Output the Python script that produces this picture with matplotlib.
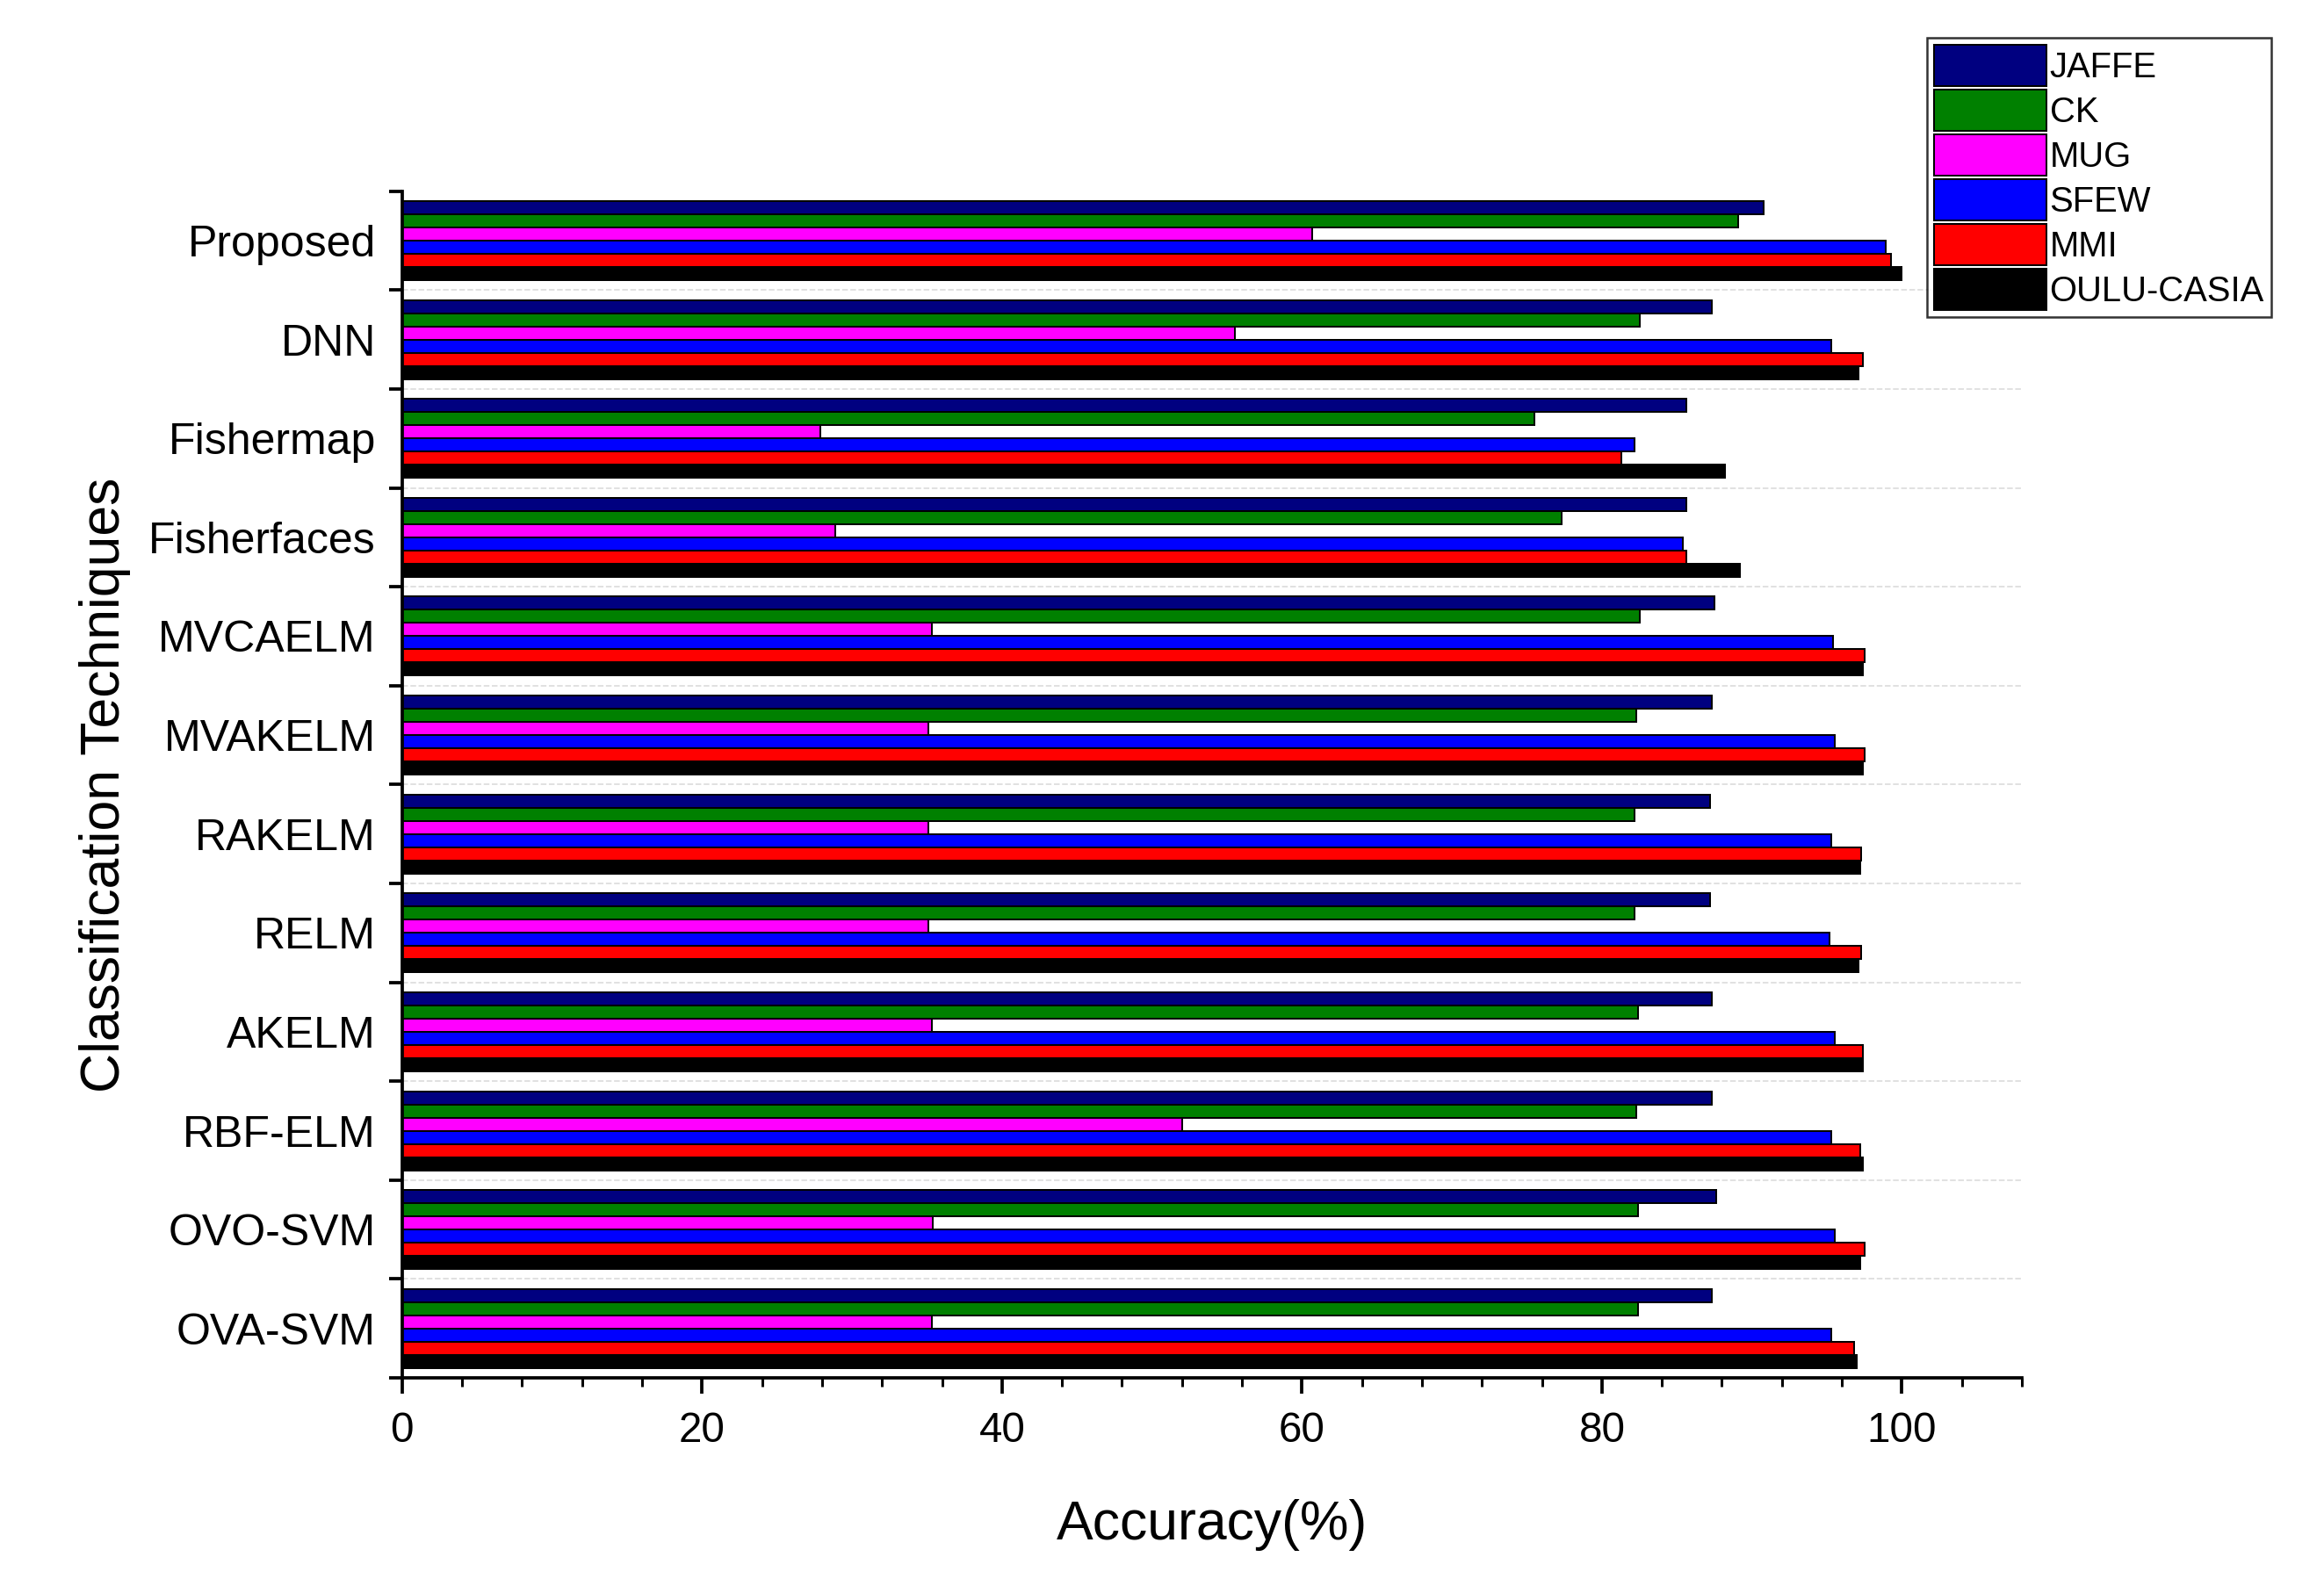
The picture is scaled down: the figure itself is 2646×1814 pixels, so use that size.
import matplotlib
matplotlib.use("Agg")
import matplotlib.pyplot as plt
import numpy as np
from matplotlib.ticker import MultipleLocator

plt.rcParams['font.family'] = ['Liberation Sans', 'DejaVu Sans']

methods = ["Proposed","DNN","Fishermap","Fisherfaces","MVCAELM","MVAKELM","RAKELM","RELM","AKELM","RBF-ELM","OVO-SVM","OVA-SVM"]
series = ["JAFFE","CK","MUG","SFEW","MMI","OULU-CASIA"]
colors = ["#000080","#008000","#FF00FF","#0000FF","#FF0000","#000000"]
jaffe = [90.8,87.3,85.6,85.6,87.5,87.3,87.2,87.2,87.3,87.3,87.6,87.3]
ck    = [89.1,82.5,75.5,77.3,82.5,82.3,82.2,82.2,82.4,82.3,82.4,82.4]
mug   = [60.7,55.5,27.9,28.9,35.3,35.1,35.1,35.1,35.3,52.0,35.4,35.3]
sfew  = [98.9,95.3,82.2,85.4,95.4,95.5,95.3,95.2,95.5,95.3,95.5,95.3]
mmi   = [99.3,97.4,81.3,85.6,97.5,97.5,97.3,97.3,97.4,97.2,97.5,96.8]
oulu  = [100.0,97.1,88.2,89.2,97.4,97.4,97.2,97.1,97.4,97.4,97.2,97.0]
data = [jaffe, ck, mug, sfew, mmi, oulu]

fig = plt.figure(figsize=(14.7, 10.078), dpi=180)
ax = fig.add_axes([0.173, 0.135, 0.697, 0.745])
n = len(methods)
pos = np.arange(n)[::-1]
h = 0.8/6
for i, (s, c, v) in enumerate(zip(series, colors, data)):
    ax.barh(pos + 0.4 - h/2 - i*h, v, height=h, color=c, edgecolor="black", linewidth=0.8, label=s)
ax.set_ylim(-0.5, n-0.5)
ax.set_xlim(0, 108)
ax.set_yticks(pos)
ax.set_yticklabels(methods, fontsize=20)
ax.set_yticks(np.arange(-0.5, n), minor=True)
ax.tick_params(axis="y", which="major", length=0, pad=12)
ax.tick_params(axis="y", which="minor", length=6, width=1.5, direction="out")
ax.xaxis.set_major_locator(MultipleLocator(20))
ax.xaxis.set_minor_locator(MultipleLocator(4))
ax.tick_params(axis="x", which="major", length=7, width=1.5, labelsize=19, pad=8)
ax.tick_params(axis="x", which="minor", length=4, width=1.2)
for y in np.arange(0.5, n-0.5):
    ax.axhline(y, color="#dddddd", linestyle="--", linewidth=0.7, zorder=0)
for sp in ["top","right"]:
    ax.spines[sp].set_visible(False)
ax.spines["left"].set_linewidth(1.5)
ax.spines["bottom"].set_linewidth(1.5)
ax.set_xlabel("Accuracy(%)", fontsize=25, labelpad=22)
ax.set_ylabel("Classification Techniques", fontsize=25, labelpad=8)
leg = fig.legend(loc="upper left", bbox_to_anchor=(0.829, 0.976), fontsize=16, frameon=True,
                 fancybox=False, edgecolor="black", handlelength=3.2, handleheight=1.4,
                 handletextpad=0.1, borderaxespad=0, borderpad=0.2, labelspacing=0.12)
fig.savefig("out.png", dpi=180)
